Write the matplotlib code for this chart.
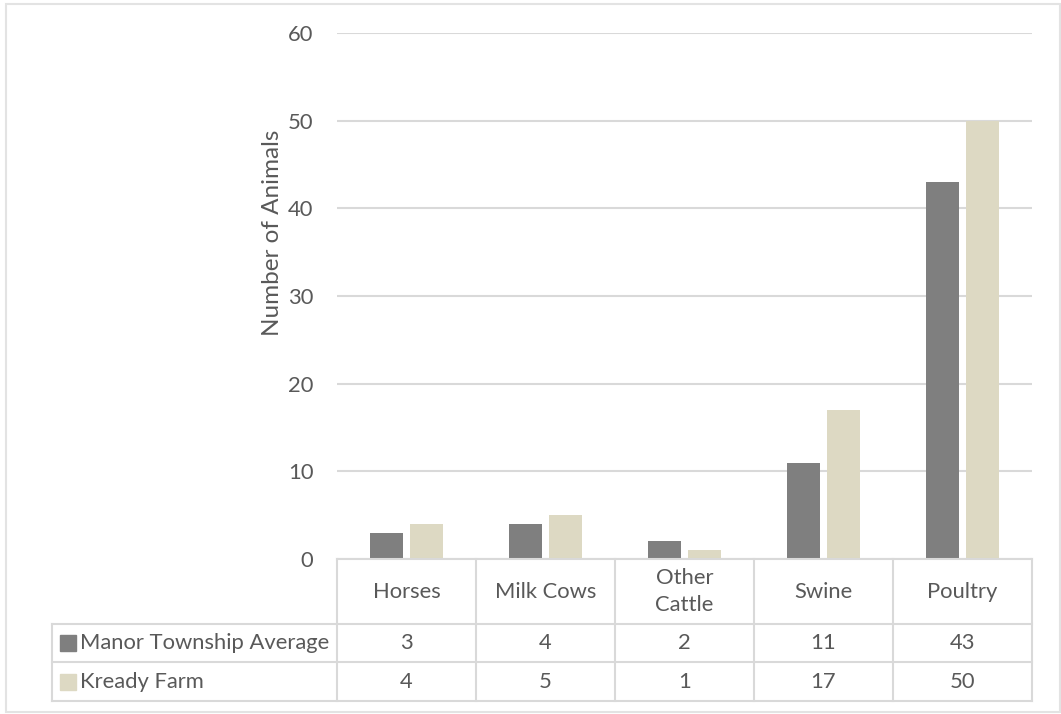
import matplotlib
matplotlib.use('Agg')
import matplotlib.pyplot as plt
from matplotlib.lines import Line2D
from matplotlib.patches import Rectangle
from matplotlib.transforms import blended_transform_factory

categories = ['Horses', 'Milk Cows', 'Other\nCattle', 'Swine', 'Poultry']
series_names = ['Manor Township Average', 'Kready Farm']
manor = [3, 4, 2, 11, 43]
kready = [4, 5, 1, 17, 50]
yticks = [0, 10, 20, 30, 40, 50, 60]

colors = ['#7F7F7F', '#DDD9C3']
grid_c = '#D9D9D9'
text_c = '#595959'
fs = 15.8

plt.rcParams['font.family'] = ['Lato', 'DejaVu Sans']

W, H = 1061, 714
fig = plt.figure(figsize=(W / 100, H / 100), dpi=100)

def fx(x):
    return x / W

def fy(y):
    return 1 - y / H

# plot area in pixels
left, right, top, bottom = 337, 1032, 33, 559
ax = fig.add_axes([fx(left), fy(bottom), fx(right - left), (bottom - top) / H])

x = list(range(len(categories)))
bw = 0.237
off = 0.144
ax.bar([i - off for i in x], manor, width=bw, color=colors[0], zorder=3)
ax.bar([i + off for i in x], kready, width=bw, color=colors[1], zorder=3)

ax.set_xlim(-0.5, len(categories) - 0.5)
ax.set_ylim(0, 60)
ax.set_yticks(yticks)
ax.set_xticks([])
ax.tick_params(axis='y', length=0, pad=17, labelsize=fs, labelcolor=text_c)
ax.yaxis.grid(True, color=grid_c, linewidth=1.5, zorder=0)
for s in ax.spines.values():
    s.set_visible(False)
ax.set_ylabel('Number of Animals', fontsize=17.5, color=text_c)
ax.yaxis.set_label_coords(-0.078, 0.62)

# data table
row_y = [559, 624, 662, 701]
tbl_left = 52
lw = 1.5
trans = blended_transform_factory(ax.transData, fig.transFigure)

def hline(x0, x1, y):
    fig.add_artist(Line2D([fx(x0), fx(x1)], [fy(y), fy(y)], color=grid_c, lw=lw))

def vline(x, y0, y1):
    fig.add_artist(Line2D([fx(x), fx(x)], [fy(y0), fy(y1)], color=grid_c, lw=lw))

hline(left, right, row_y[0])
for y in row_y[1:]:
    hline(tbl_left, right, y)
vline(tbl_left, row_y[1], row_y[3])
ncat = len(categories)
for k in range(ncat + 1):
    xp = left + k * (right - left) / ncat
    vline(xp, row_y[0], row_y[3])

for i, c in enumerate(categories):
    fig.text(i, fy((row_y[0] + row_y[1]) / 2), c, transform=trans, ha='center',
             va='center', fontsize=fs, color=text_c, linespacing=1.45)
for r, vals in enumerate([manor, kready]):
    yc = fy((row_y[r + 1] + row_y[r + 2]) / 2)
    for i, v in enumerate(vals):
        fig.text(i, yc, str(v), transform=trans, ha='center', va='center',
                 fontsize=fs, color=text_c)
    fig.add_artist(Rectangle((fx(tbl_left + 8), yc - 8 / H), 16 / W, 16 / H,
                             color=colors[r], transform=fig.transFigure))
    fig.text(fx(tbl_left + 28), yc, series_names[r], ha='left', va='center',
             fontsize=fs, color=text_c)

# chart border
fig.add_artist(Rectangle((fx(6), fy(712)), fx(1054), (712 - 4) / H, fill=False,
                         edgecolor='#E3E3E3', lw=1.5, transform=fig.transFigure))

fig.savefig('out.png', dpi=100)
